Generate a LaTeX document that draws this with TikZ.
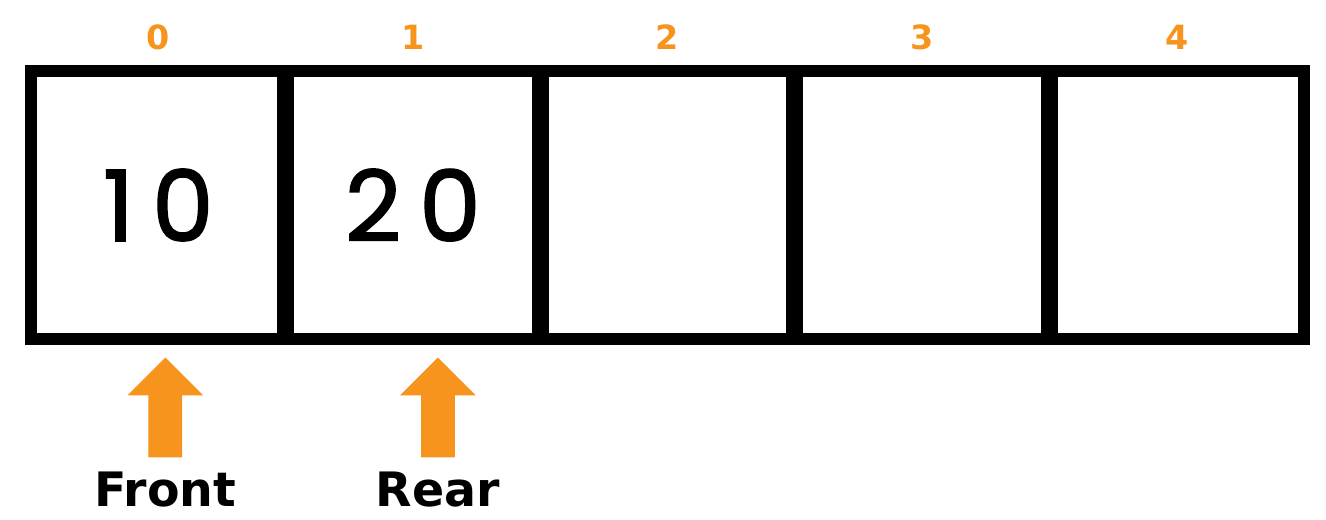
\documentclass[tikz,border=0pt]{standalone}
\usepackage{fontspec}
\setmainfont{DejaVu Sans}
\newfontfamily\numfont[LetterSpace=18, FakeBold=1.5]{Poppins}
\usetikzlibrary{positioning, shapes.arrows, calc}
\definecolor{qorange}{HTML}{F7941D}

\begin{document}
\begin{tikzpicture}[x=0.02cm, y=-0.02cm,
  cell/.style={draw, fill=white, line width=0.24cm, outer sep=0pt, inner sep=0pt,
    minimum width=5.092cm, minimum height=5.36cm,
    font=\numfont\fontsize{56}{60}\selectfont},
  divider/.style={line width=0.34cm},
  idx/.style={text=qorange, inner sep=0pt, font=\bfseries\fontsize{19}{20}\selectfont},
  ptr/.style={single arrow, fill=qorange, rotate=90, minimum height=2cm,
    minimum width=1.5cm, single arrow head extend=0.42cm, inner sep=0.33cm},
  ptrlabel/.style={inner sep=0pt, font=\bfseries\fontsize{27}{28}\selectfont},
]
\useasboundingbox (0,0) rectangle (1326,520);

% queue cells with their index
\foreach \i/\val in {0/10, 1/20, 2/, 3/, 4/} {
  \node[cell] (c\i) at (158.3+254.6*\i, 205) {\val};
  \node[idx, above=0.42cm of c\i] (n\i) {\i};
}

% thick separators
\foreach \i in {0,...,3}
  \draw[divider] (c\i.north east) -- (c\i.south east);

% front and rear pointers
\node[ptr, anchor=east] (fa) at ($(c0.south)+(7,18)$) {};
\node[ptrlabel, below=0.28cm of fa.west] (front) {Front};

\node[ptr, anchor=east] (ra) at ($(c1.south)+(25,18)$) {};
\node[ptrlabel, below=0.28cm of ra.west] (rear) {Rear};

\end{tikzpicture}
\end{document}
